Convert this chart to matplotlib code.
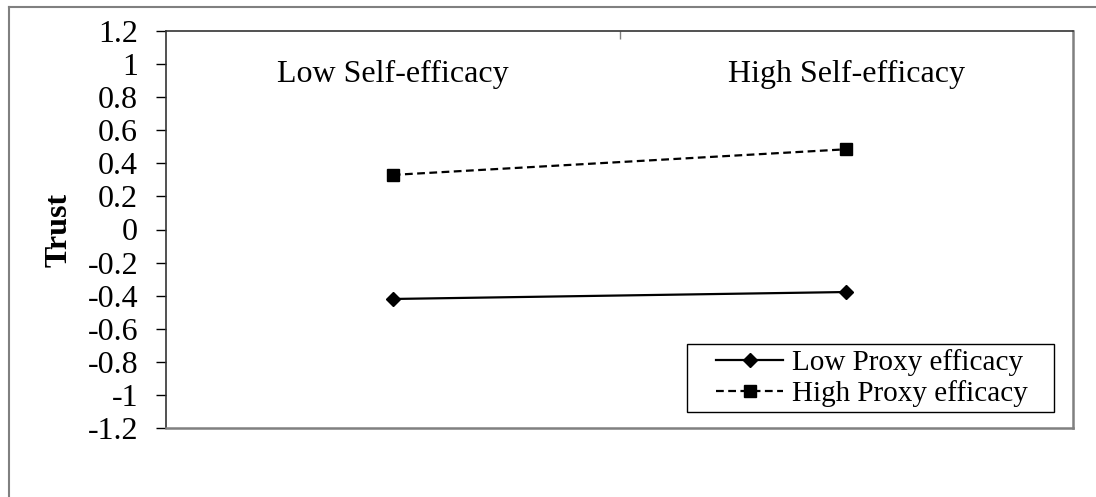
import numpy as np
import matplotlib.pyplot as plt
from matplotlib.lines import Line2D
from matplotlib.patches import Rectangle

plt.rcParams["font.family"] = ["Liberation Serif", "DejaVu Serif"]

categories = ["Low Self-efficacy", "High Self-efficacy"]
low_proxy = [-0.42, -0.378]
high_proxy = [0.33, 0.485]
y_ticks = np.round(np.arange(-1.2, 1.21, 0.2), 1)
y_tick_labels = ["-1.2", "-1", "-0.8", "-0.6", "-0.4", "-0.2", "0",
                 "0.2", "0.4", "0.6", "0.8", "1", "1.2"]

W, H = 1096, 497
fig = plt.figure(figsize=(W / 100, H / 100), dpi=100)
ax = fig.add_axes([166 / W, 1 - 428 / H, (1073 - 166) / W, (428 - 31) / H])

# outer chart frame (clipped on right/bottom like the source)
fig.add_artist(Line2D([9 / W, 1.01], [1 - 7 / H, 1 - 7 / H], transform=fig.transFigure,
                      color="#808080", lw=1.5))
fig.add_artist(Line2D([9 / W, 9 / W], [1 - 7 / H, -0.01], transform=fig.transFigure,
                      color="#808080", lw=1.5))

x = np.array([0.5, 1.5])
ax.plot(x, low_proxy, color="black", lw=1.6, marker="D", markersize=7.5,
        label="Low Proxy efficacy")
ax.plot(x, high_proxy, color="black", lw=1.6, marker="s", markersize=8.5,
        dashes=(3.5, 2), label="High Proxy efficacy")

ax.set_xlim(0, 2)
ax.set_ylim(-1.2, 1.2)
ax.set_yticks(y_ticks, y_tick_labels, fontsize=23)
ax.tick_params(axis="y", direction="out", length=7, width=1, pad=13)

# category ticks on top, labels inside the plot area
ax.xaxis.tick_top()
ax.set_xticks([1], [""])
ax.tick_params(axis="x", direction="in", length=6, width=1, color="#808080")
for xi, cat in zip(x, categories):
    ax.text(xi, 1 - 43 / 397, cat, ha="center", va="center", fontsize=23,
            transform=ax.get_xaxis_transform())

ax.set_ylabel("Trust", fontsize=23, fontweight="bold", labelpad=10)

for side in ["left", "top"]:
    ax.spines[side].set_color("#333333")
    ax.spines[side].set_linewidth(1.2)
for side in ["right", "bottom"]:
    ax.spines[side].set_color("#808080")
    ax.spines[side].set_linewidth(1.8)

# legend without its own frame; Excel-style box drawn separately (wider padding)
ax.legend(loc="center", bbox_to_anchor=((872 - 166) / 907, (428 - 378) / 397),
          fontsize=21, frameon=False, handlelength=2.3, handletextpad=0.3,
          borderpad=0, labelspacing=0.15, borderaxespad=0)
ax.add_patch(Rectangle(((687 - 166) / 907, (428 - 412) / 397), 367 / 907, 68 / 397,
                       transform=ax.transAxes, fill=False, edgecolor="black", lw=1,
                       zorder=5))

fig.savefig("out.png", dpi=100)
